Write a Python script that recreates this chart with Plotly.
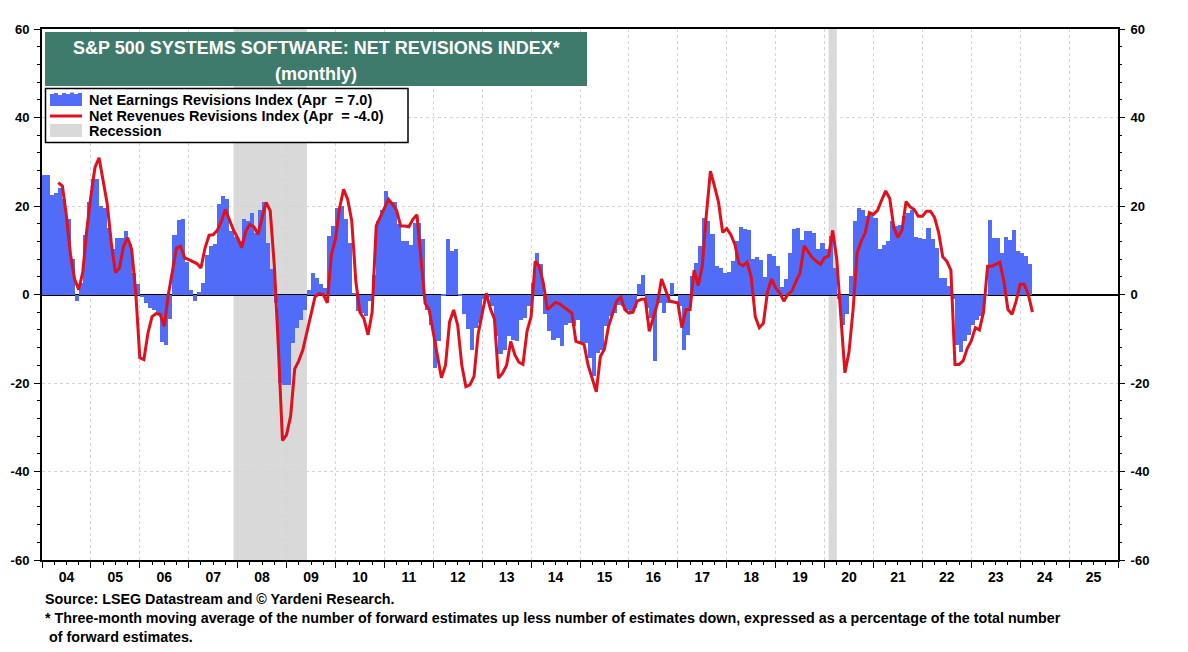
import plotly.graph_objects as go

# ---------------- data (monthly) ----------------
YEAR0 = 2004  # first calendar year on the axis

# Net Earnings Revisions Index, one bar per month slot starting Jan 2004 (last = Apr 2024 value 7.0)
earn_2004 = [27, 27, 22.5, 23, 24, 21.5, 17, 8, -1.5, 2.5, 13.5, 21]
earn_2005 = [26.2, 26.2, 20, 19.5, 15, 10.2, 12.8, 12.8, 14.3, 11.5, 4.8, 2.4]
earn_2006 = [-0.5, -2, -3, -3.5, -4.5, -10.8, -11.5, -5.5, 13.4, 16.9, 17, 7.3]
earn_2007 = [1, -1.5, 0.5, 2.5, 9, 11, 11.5, 20.5, 22.3, 21.5, 14.3, 13]
earn_2008 = [12, 17, 16.5, 18.5, 14, 19, 20.8, 11.7, 5.7, -2, -20, -20.5]
earn_2009 = [-20.4, -11, -7.5, -5.7, -3.4, 1, 4.9, 3.8, 2.3, 1.5, 13.2, 15.5]
earn_2010 = [19.6, 20, 17, 11.7, 0.4, -3.8, -4.2, -4.9, -1.5, 4.5, 16.6, 19.2]
earn_2011 = [23.4, 21, 20.9, 16, 12.1, 12.1, 11.1, 16.2, 16.1, 12.5, -3.4, -6.8]
earn_2012 = [-16.6, -10.6, -0.4, 12.5, 9.8, 10.2, -0.4, -4.5, -7.8, -12.5, -7.5, -6.4]
earn_2013 = [-1, -0.5, -2.6, -9.4, -13.4, -12.5, -9.4, -10.2, -10.6, -5.7, -5.3, -2.6]
earn_2014 = [2.6, 9.3, 6.8, -4.5, -8.3, -10.2, -9.8, -11.7, -7, -6.4, -7.2, -5.7]
earn_2015 = [-10.9, -11, -14.3, -18.5, -13.2, -12.5, -7.2, -4.9, -4.2, -2.3, -2.5, -3.4]
earn_2016 = [-4.2, -3, 2.3, 4.5, -3, -5.3, -15.1, -2, -4.2, -1.9, 2.6, 0]
earn_2017 = [-2.6, -12.5, -9.1, 4.2, 7.2, 10.9, 17.4, 16.6, 13.6, 6.4, 6, 4.9]
earn_2018 = [5, 7.5, 12, 15.3, 14.7, 14.5, 8.1, 8.5, 7.9, 4, 9.1, 8.8]
earn_2019 = [6.4, 1.7, 3.4, 9.3, 14.9, 15, 12.3, 14.3, 14.3, 14, 10.2, 11.7]
earn_2020 = [10.2, 13.2, 6, -1, -6.8, -4.5, 4.2, 16.6, 19.6, 19.2, 17.7, 18.5]
earn_2021 = [17.4, 10.2, 11.3, 12, 16.6, 15.5, 15.8, 17.7, 18.5, 19.2, 13.1, 12.8]
earn_2022 = [12.5, 15.1, 12.5, 10.6, 3.8, 3.8, 1.9, -1, -11.3, -13.1, -10.6, -9.1]
earn_2023 = [-6.8, -5.8, -4.9, -0.4, 16.8, 12.8, 12.8, 9.4, 13.1, 12.3, 14.5, 9.8]
earn_2024 = [9.3, 8.8, 7.0]

# Net Revenues Revisions Index, monthly from May 2004 to Apr 2024 (last = -4.0)
REV_FIRST_MONTH = 4  # months after Jan 2004
rev_2004 = [25.3, 24.5, 17.7, 9, 3.5, 1.1, 5, 14.7]
rev_2005 = [22.3, 28.7, 30.9, 26, 20.5, 11.7, 5, 6, 10.9, 12.8, 10.2, 0.5]
rev_2006 = [-14.3, -14.7, -8.7, -5, -4.3, -4.5, -7.2, 0, 5.7, 10.5, 10.9, 8.3]
rev_2007 = [7.9, 7.5, 7, 6, 10.5, 13.4, 13.5, 14.5, 16.5, 19.2, 17, 14.5]
rev_2008 = [12.8, 10.6, 14.3, 15.8, 15.3, 13.6, 17.3, 20.8, 18.9, 6.5, -12, -33]
rev_2009 = [-31.7, -27.5, -16.8, -15, -12.5, -8.5, -4.8, -0.5, 0.2, 0, -1.9, 9]
rev_2010 = [12.5, 19.5, 23.8, 21.5, 16.6, 3, -4, -5.5, -9.1, -4, 15.5, 17.5]
rev_2011 = [19.5, 21.5, 20.4, 19, 15.5, 15.5, 15.3, 17, 18, 8.5, -2, -3.5]
rev_2012 = [-8.7, -14, -18.8, -16, -6.2, -3.5, -7, -16, -20.8, -20.4, -18.5, -9]
rev_2013 = [-4, 0.3, -3.2, -5.5, -18.9, -17.8, -16, -10.6, -13.6, -15.3, -15.8, -8.3]
rev_2014 = [-5, 7.5, 6.4, 2.6, -3.4, -2.6, -1.8, -2.1, -2.7, -3.5, -4.2, -10.6]
rev_2015 = [-10.9, -11.3, -16, -19.3, -22, -14, -12.3, -7.2, -4.5, -1.5, -0.6, -3.4]
rev_2016 = [-4.2, -4, -1.5, -1.1, -1, -8.3, -5.2, -2, 3.5, 1, -1.5, -1.7]
rev_2017 = [-1.9, -7.5, -3.4, -3.4, 5.5, 2, 6.4, 18, 27.9, 24.5, 20.8, 14]
rev_2018 = [14.9, 13.5, 11.3, 7, 6.5, 7.3, 4, -5, -7.5, -6.5, 0.6, 3.5]
rev_2019 = [1.5, 0.4, -1.5, 0, 0.8, 3, 4.9, 11, 9.5, 8.3, 7.5, 6.8]
rev_2020 = [8.3, 8.7, 14.5, 8, -5, -17.7, -13, -3.4, 9.4, 12.1, 14, 18.5]
rev_2021 = [18.1, 19, 21.3, 23.4, 21.7, 15.1, 12.9, 14.5, 21, 19.8, 19.2, 17.7]
rev_2022 = [17.7, 18.8, 18.8, 17.4, 14, 8.5, 7.5, 5.5, -15.8, -15.8, -15, -12.2]
rev_2023 = [-10.5, -7.5, -8, -4, 6.4, 6.4, 6.8, 7.3, 3, -3.4, -4.5, -1.5]
rev_2024 = [2.3, 2.3, 0, -4.0]

# Recessions: (start month, end month) counted from Jan 2004
recessions = [(47, 65), (193, 195)]  # Dec 2007 - Jun 2009, Feb 2020 - Apr 2020

year_labels = ["04", "05", "06", "07", "08", "09", "10", "11", "12", "13", "14",
               "15", "16", "17", "18", "19", "20", "21", "22", "23", "24", "25"]
y_ticks = [-60, -40, -20, 0, 20, 40, 60]
y_tick_labels = ["-60", "-40", "-20", "0", "20", "40", "60"]

title_lines = ["S&P 500 SYSTEMS SOFTWARE: NET REVISIONS INDEX*", "(monthly)"]
legend_labels = ["Net Earnings Revisions Index (Apr  = 7.0)",
                 "Net Revenues Revisions Index (Apr  = -4.0)",
                 "Recession"]
footer_lines = ["Source: LSEG Datastream and \u00a9 Yardeni Research.",
                "* Three-month moving average of the number of forward estimates up less number of estimates down, expressed as a percentage of the total number",
                "of forward estimates."]

earnings = (earn_2004 + earn_2005 + earn_2006 + earn_2007 + earn_2008 + earn_2009 +
            earn_2010 + earn_2011 + earn_2012 + earn_2013 + earn_2014 + earn_2015 +
            earn_2016 + earn_2017 + earn_2018 + earn_2019 + earn_2020 + earn_2021 +
            earn_2022 + earn_2023 + earn_2024)
revenues = (rev_2004 + rev_2005 + rev_2006 + rev_2007 + rev_2008 + rev_2009 +
            rev_2010 + rev_2011 + rev_2012 + rev_2013 + rev_2014 + rev_2015 +
            rev_2016 + rev_2017 + rev_2018 + rev_2019 + rev_2020 + rev_2021 +
            rev_2022 + rev_2023 + rev_2024)

# ---------------- styling ----------------
BLUE = "#506CF8"
RED = "#E0101C"
GREEN = "#3F7B6D"
GREY = "#D9D9D9"
GRID = "#D4D4D4"
FONT = "Liberation Sans, Arial, sans-serif"

# page (screenshot) geometry; the html body adds an 8px offset
PAGE_OFF = 8
PLOT_L, PLOT_R, PLOT_T, PLOT_B = 42, 1118, 29, 560
W, H = 1188 - PAGE_OFF, 652 - PAGE_OFF
ML, MT = PLOT_L - PAGE_OFF, PLOT_T - PAGE_OFF
MR, MB = 1188 - PLOT_R, 652 - PLOT_B
PW, PH = PLOT_R - PLOT_L, PLOT_B - PLOT_T


def px(x):
    return (x - PLOT_L) / PW


def py(y):
    return (PLOT_B - y) / PH


bar_x = [YEAR0 + (i + 0.5) / 12 for i in range(len(earnings))]
rev_x = [YEAR0 + (REV_FIRST_MONTH + j) / 12 for j in range(len(revenues))]
x_range = [YEAR0, YEAR0 + len(year_labels)]
year_starts = list(range(YEAR0, YEAR0 + len(year_labels) + 1))
year_mids = [YEAR0 + i + 0.5 for i in range(len(year_labels))]

fig = go.Figure()
fig.add_trace(go.Bar(x=bar_x, y=earnings, width=1 / 12, marker=dict(color=BLUE, line=dict(width=0)),
                     name=legend_labels[0], xaxis="x", yaxis="y", showlegend=False))
fig.add_trace(go.Scatter(x=rev_x, y=revenues, mode="lines", line=dict(color=RED, width=3),
                         name=legend_labels[1], xaxis="x2", yaxis="y2", showlegend=False))

shapes = []
for a, b in recessions:
    shapes.append(dict(type="rect", xref="x", yref="paper", x0=YEAR0 + a / 12, x1=YEAR0 + b / 12,
                       y0=0, y1=1, fillcolor=GREY, line=dict(width=0), layer="below"))

# title box
shapes.append(dict(type="rect", xref="paper", yref="paper", x0=px(45), x1=px(587), y0=py(86), y1=py(32),
                   fillcolor=GREEN, line=dict(width=0), layer="above"))
# legend box
shapes.append(dict(type="rect", xref="paper", yref="paper", x0=px(45.5), x1=px(408), y0=py(142.5), y1=py(88.5),
                   fillcolor="white", line=dict(color="black", width=1.5), layer="above"))
# legend icon: bars with jagged top
path = "M {:.5f},{:.5f}".format(px(50), py(106))
tops = [94, 93, 95, 93, 94, 92.5, 94, 93]
for i, t in enumerate(tops):
    x0 = 50 + i * 4
    path += " L {:.5f},{:.5f} L {:.5f},{:.5f}".format(px(x0), py(t), px(x0 + 4), py(t))
path += " L {:.5f},{:.5f} Z".format(px(82), py(106))
shapes.append(dict(type="path", xref="paper", yref="paper", path=path, fillcolor=BLUE,
                   line=dict(width=0), layer="above"))
shapes.append(dict(type="line", xref="paper", yref="paper", x0=px(50), x1=px(82), y0=py(116), y1=py(116),
                   line=dict(color=RED, width=3), layer="above"))
shapes.append(dict(type="rect", xref="paper", yref="paper", x0=px(50), x1=px(82), y0=py(137), y1=py(124),
                   fillcolor=GREY, line=dict(width=0), layer="above"))

annotations = []
for txt, yy in zip(title_lines, [47.5, 73.5]):
    annotations.append(dict(text=txt, xref="paper", yref="paper", x=px(316), y=py(yy),
                            xanchor="center", yanchor="middle", showarrow=False,
                            font=dict(family=FONT, size=18, color="white", weight="bold")))
for txt, yy in zip(legend_labels, [99.5, 115.5, 131]):
    annotations.append(dict(text=txt, xref="paper", yref="paper", x=px(87), y=py(yy),
                            xanchor="left", yanchor="middle", showarrow=False,
                            font=dict(family=FONT, size=14.5, color="black", weight="bold")))
for txt, yy, xx in zip(footer_lines, [598.5, 617.5, 637], [43, 43, 47]):
    annotations.append(dict(text=txt, xref="paper", yref="paper", x=px(xx), y=py(yy),
                            xanchor="left", yanchor="middle", showarrow=False,
                            font=dict(family=FONT, size=14.3, color="black", weight="bold")))

xtickfont = dict(family=FONT, size=14, color="black", weight="bold")
ytickfont = dict(family=FONT, size=13, color="black", weight="bold")

fig.update_layout(
    width=W, height=H, margin=dict(l=ML, r=MR, t=MT, b=MB, autoexpand=False),
    paper_bgcolor="white", plot_bgcolor="white",
    bargap=0, showlegend=False,
    shapes=shapes, annotations=annotations,
    xaxis=dict(range=x_range, tickmode="array", tickvals=year_starts, showticklabels=False,
               ticks="outside", ticklen=6, tickwidth=1, tickcolor="black", automargin=False,
               minor=dict(dtick=0.25, tick0=YEAR0, ticks="outside", ticklen=3, tickcolor="black", showgrid=False),
               showgrid=True, gridcolor=GRID, griddash="dot", gridwidth=1,
               showline=True, linecolor="black", linewidth=2, mirror=True, zeroline=False),
    xaxis2=dict(range=x_range, overlaying="x", anchor="y2", side="bottom", tickmode="array",
                tickvals=year_mids, ticktext=year_labels, ticks="outside", ticklen=4,
                tickcolor="rgba(0,0,0,0)", tickfont=xtickfont, showgrid=False, zeroline=False,
                showline=False, automargin=False),
    yaxis=dict(range=[-60, 60], tickmode="array", tickvals=y_ticks, ticktext=y_tick_labels,
               ticks="outside", ticklen=6,
               tickwidth=1, tickcolor="black", tickfont=ytickfont, ticklabelstandoff=2, automargin=False,
               minor=dict(dtick=4, tick0=0, ticks="outside", ticklen=3, tickcolor="black", showgrid=False),
               showgrid=True, gridcolor=GRID, griddash="dot", gridwidth=1,
               zeroline=True, zerolinecolor="black", zerolinewidth=1.5,
               showline=True, linecolor="black", linewidth=2, mirror=True),
    yaxis2=dict(range=[-60, 60], overlaying="y", side="right", anchor="x2", tickmode="array",
                tickvals=y_ticks, ticktext=y_tick_labels, ticks="outside", ticklen=6, tickwidth=1,
                tickcolor="black",
                tickfont=ytickfont, ticklabelstandoff=3, automargin=False,
                minor=dict(dtick=4, tick0=0, ticks="outside", ticklen=3, tickcolor="black", showgrid=False),
                showgrid=False, zeroline=False, showline=False),
)

fig.write_html("out.html")
